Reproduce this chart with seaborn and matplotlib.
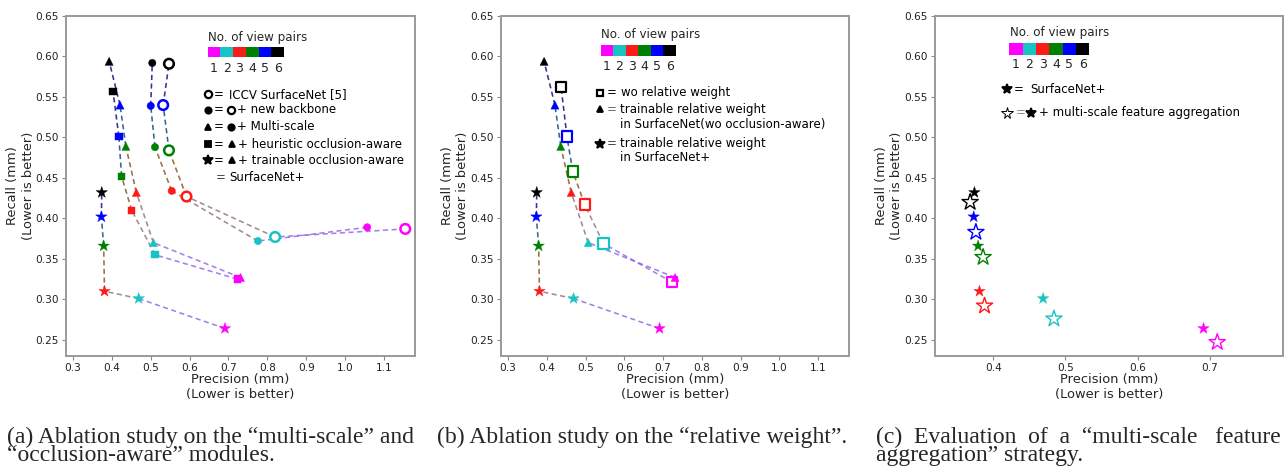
import numpy as np
import pandas as pd
import matplotlib
matplotlib.use("Agg")
import matplotlib.pyplot as plt
import seaborn as sns
from matplotlib.colors import to_rgb

# ---------------- data ----------------
views = [1, 2, 3, 4, 5, 6]
view_colors = ["#ff00ff", "#17c4c4", "#ff1a1a", "#008000", "#0000ff", "#000000"]

# panel (a)
iccv_x = [1.155, 0.820, 0.592, 0.547, 0.532, 0.547]
iccv_y = [0.387, 0.377, 0.427, 0.484, 0.540, 0.591]
backbone_x = [1.057, 0.776, 0.554, 0.511, 0.500, 0.504]
backbone_y = [0.389, 0.372, 0.434, 0.488, 0.539, 0.592]
multiscale_x = [0.731, 0.507, 0.463, 0.436, 0.421, 0.393]
multiscale_y = [0.327, 0.370, 0.432, 0.489, 0.540, 0.594]
heuristic_x = [0.723, 0.511, 0.451, 0.425, 0.418, 0.403]
heuristic_y = [0.325, 0.355, 0.410, 0.452, 0.501, 0.557]
surfnetp_x = [0.691, 0.469, 0.381, 0.379, 0.373, 0.374]
surfnetp_y = [0.264, 0.301, 0.310, 0.366, 0.402, 0.432]

# panel (b)
worw_x = [0.724, 0.546, 0.498, 0.467, 0.452, 0.437]
worw_y = [0.321, 0.369, 0.417, 0.458, 0.501, 0.562]

# panel (c)
msfa_x = [0.710, 0.484, 0.388, 0.386, 0.376, 0.368]
msfa_y = [0.247, 0.276, 0.292, 0.352, 0.383, 0.420]

x_ticks_ab = [0.3, 0.4, 0.5, 0.6, 0.7, 0.8, 0.9, 1.0, 1.1]
x_ticks_c = [0.4, 0.5, 0.6, 0.7]
y_ticks = [0.25, 0.30, 0.35, 0.40, 0.45, 0.50, 0.55, 0.60, 0.65]

caption_a = ("(a) Ablation study on the \u201cmulti-scale\u201d and\n"
             "\u201cocclusion-aware\u201d modules.")
caption_b = "(b) Ablation study on the \u201crelative weight\u201d."
caption_c = ("(c)  Evaluation  of  a  \u201cmulti-scale   feature\n"
             "aggregation\u201d strategy.")

# ---------------- style ----------------
sns.set_style("ticks")
plt.rcParams["font.family"] = ["DejaVu Sans"]

W, H = 1285, 467
fig = plt.figure(figsize=(W / 100, H / 100), dpi=100)

def fx(px):
    return px / W

def fy(py):
    return 1 - py / H

ax_a = fig.add_axes([fx(66), fy(356), fx(349), 340 / H])
ax_b = fig.add_axes([fx(500.7), fy(356), fx(348.3), 340 / H])
ax_c = fig.add_axes([fx(934.7), fy(356), fx(348.3), 340 / H])

palette = dict(zip(views, view_colors))


def mix(c1, c2):
    a = np.array(to_rgb(c1)); b = np.array(to_rgb(c2))
    return tuple((a + b) / 2)


def draw_series(ax, xs, ys, marker, size, filled=True, lines=True, lw_edge=1.5):
    if lines:
        for i in range(len(xs) - 1):
            ax.plot([xs[i], xs[i + 1]], [ys[i], ys[i + 1]],
                    linestyle=(0, (3.2, 2.2)), lw=1.15,
                    color=mix(view_colors[i], view_colors[i + 1]),
                    alpha=0.8, zorder=2)
    df = pd.DataFrame({"x": xs, "y": ys, "views": views})
    n_before = len(ax.collections)
    sns.scatterplot(data=df, x="x", y="y", hue="views", palette=palette,
                    marker=marker, s=size, linewidth=0 if filled else lw_edge,
                    legend=False, ax=ax, zorder=3)
    coll = ax.collections[n_before]
    if not filled:
        fc = coll.get_facecolors()
        coll.set_edgecolors(fc)
        coll.set_facecolors("white")
        coll.set_linewidths(lw_edge)
    else:
        coll.set_edgecolors(coll.get_facecolors())
        coll.set_linewidths(0.3)


# panel a
draw_series(ax_a, iccv_x, iccv_y, "o", 48, filled=False, lw_edge=1.8)
draw_series(ax_a, backbone_x, backbone_y, "o", 28)
draw_series(ax_a, multiscale_x, multiscale_y, "^", 34)
draw_series(ax_a, heuristic_x, heuristic_y, "s", 28)
draw_series(ax_a, surfnetp_x, surfnetp_y, "*", 75)

# panel b
draw_series(ax_b, worw_x, worw_y, "s", 55, filled=False, lw_edge=1.6)
draw_series(ax_b, multiscale_x, multiscale_y, "^", 34)
draw_series(ax_b, surfnetp_x, surfnetp_y, "*", 75)

# panel c
draw_series(ax_c, surfnetp_x, surfnetp_y, "*", 75, lines=False)
draw_series(ax_c, msfa_x, msfa_y, "*", 150, filled=False, lines=False, lw_edge=1.0)

for ax, xt, xl in [(ax_a, x_ticks_ab, (0.282, 1.18)),
                   (ax_b, x_ticks_ab, (0.281, 1.18)),
                   (ax_c, x_ticks_c, (0.319, 0.801))]:
    ax.set_xlim(*xl)
    ax.set_ylim(0.23, 0.65)
    ax.set_xticks(xt)
    ax.set_xticklabels([f"{v:.1f}" for v in xt])
    ax.set_yticks(y_ticks)
    ax.set_yticklabels([f"{v:.2f}" for v in y_ticks])
    ax.tick_params(labelsize=7.6, length=3, width=0.8, color="#888888",
                   pad=2, labelcolor="#222222")
    for sp in ax.spines.values():
        sp.set_visible(True)
        sp.set_color("#9a9a9a")
        sp.set_linewidth(1.4)
    ax.set_xlabel("Precision (mm)\n(Lower is better)", fontsize=9.4,
                  labelpad=0, linespacing=1.2)
    ax.set_ylabel("Recall (mm)\n(Lower is better)", fontsize=9.4,
                  labelpad=0.5, linespacing=1.25)

# ---------------- legends (in figure pixels) ----------------
def color_bar(x0, x1, ytop, ybot, title_x, title_y, num_y):
    fig.text(fx(title_x), fy(title_y), "No. of view pairs", fontsize=8.6,
             ha="left", va="center")
    w = (x1 - x0) / 6
    for i, c in enumerate(view_colors):
        fig.add_artist(plt.Rectangle((fx(x0 + i * w), fy(ybot)), fx(w),
                                     (ybot - ytop) / H, color=c,
                                     transform=fig.transFigure, lw=0))
        fig.text(fx(x0 + (i + 0.5) * w), fy(num_y), str(views[i]),
                 fontsize=9, ha="center", va="center")


def mk(x, y, marker, filled=True, ms=5.0, mew=1.3):
    fig.add_artist(plt.Line2D([fx(x)], [fy(y)], marker=marker, ms=ms,
                              color="black",
                              mfc="black" if filled else "white",
                              mec="black", mew=mew, lw=0,
                              transform=fig.transFigure))


def txt(x, y, s, size=8.5, color="black"):
    fig.text(fx(x), fy(y), s, fontsize=size, ha="left", va="center",
             color=color)


# panel a legend
color_bar(207.7, 284, 47.3, 57.3, 208, 37, 68)
rows_a = [94.3, 109.5, 126.7, 144.3, 160.3, 177.7]
mk(208, rows_a[0], "o", False, ms=5.2, mew=1.6)
txt(214, rows_a[0], "=")
txt(229, rows_a[0], "ICCV SurfaceNet [5]")
mk(208, rows_a[1], "o", True, ms=4.6)
txt(214, rows_a[1], "=")
mk(231, rows_a[1], "o", False, ms=5.2, mew=1.6)
txt(236.5, rows_a[1], "+ new backbone")
mk(208, rows_a[2], "^", True, ms=5)
txt(214, rows_a[2], "=")
mk(231, rows_a[2], "o", True, ms=4.6)
txt(236.5, rows_a[2], "+ Multi-scale")
mk(208, rows_a[3], "s", True, ms=4.6)
txt(214, rows_a[3], "=")
mk(232, rows_a[3], "^", True, ms=5)
txt(238, rows_a[3], "+ heuristic occlusion-aware")
mk(208, rows_a[4], "*", True, ms=7)
txt(214, rows_a[4], "=")
mk(232, rows_a[4], "^", True, ms=5)
txt(238, rows_a[4], "+ trainable occlusion-aware")
txt(216, rows_a[5], "=", color="#444444")
txt(229, rows_a[5], "SurfaceNet+")

# panel b legend
color_bar(600.7, 676, 45.3, 56, 601, 34.3, 66)
mk(600, 92.7, "s", False, ms=4.8, mew=1.6)
txt(607, 92.7, "=")
txt(621, 92.7, "wo relative weight")
mk(600, 109.3, "^", True, ms=5)
txt(607, 109.3, "=", color="#666666")
txt(620, 109.3, "trainable relative weight")
txt(620, 124.3, "in SurfaceNet(wo occlusion-aware)")
mk(600, 144, "*", True, ms=7)
txt(607, 144, "=", color="#444444")
txt(620, 144, "trainable relative weight")
txt(620, 157.3, "in SurfaceNet+")

# panel c legend
color_bar(1009.3, 1089.3, 43.3, 55, 1010, 32.3, 65)
mk(1007, 89.3, "*", True, ms=7)
txt(1014, 89.3, "=")
txt(1030, 89.3, "SurfaceNet+")
mk(1007, 112.7, "*", False, ms=8.5, mew=0.7)
txt(1016, 112.7, "=", color="#888888")
mk(1031, 112.7, "*", True, ms=7)
txt(1039, 112.7, "+ multi-scale feature aggregation")

# ---------------- captions ----------------
cap_kw = dict(family="Liberation Serif", fontsize=17, ha="left",
              va="bottom", linespacing=0.8)
fig.text(fx(7), fy(466), caption_a, **cap_kw)
fig.text(fx(437), fy(448), caption_b, family="Liberation Serif", fontsize=17,
         ha="left", va="bottom")
fig.text(fx(876), fy(466), caption_c, **cap_kw)

fig.savefig("out.png", dpi=100)
